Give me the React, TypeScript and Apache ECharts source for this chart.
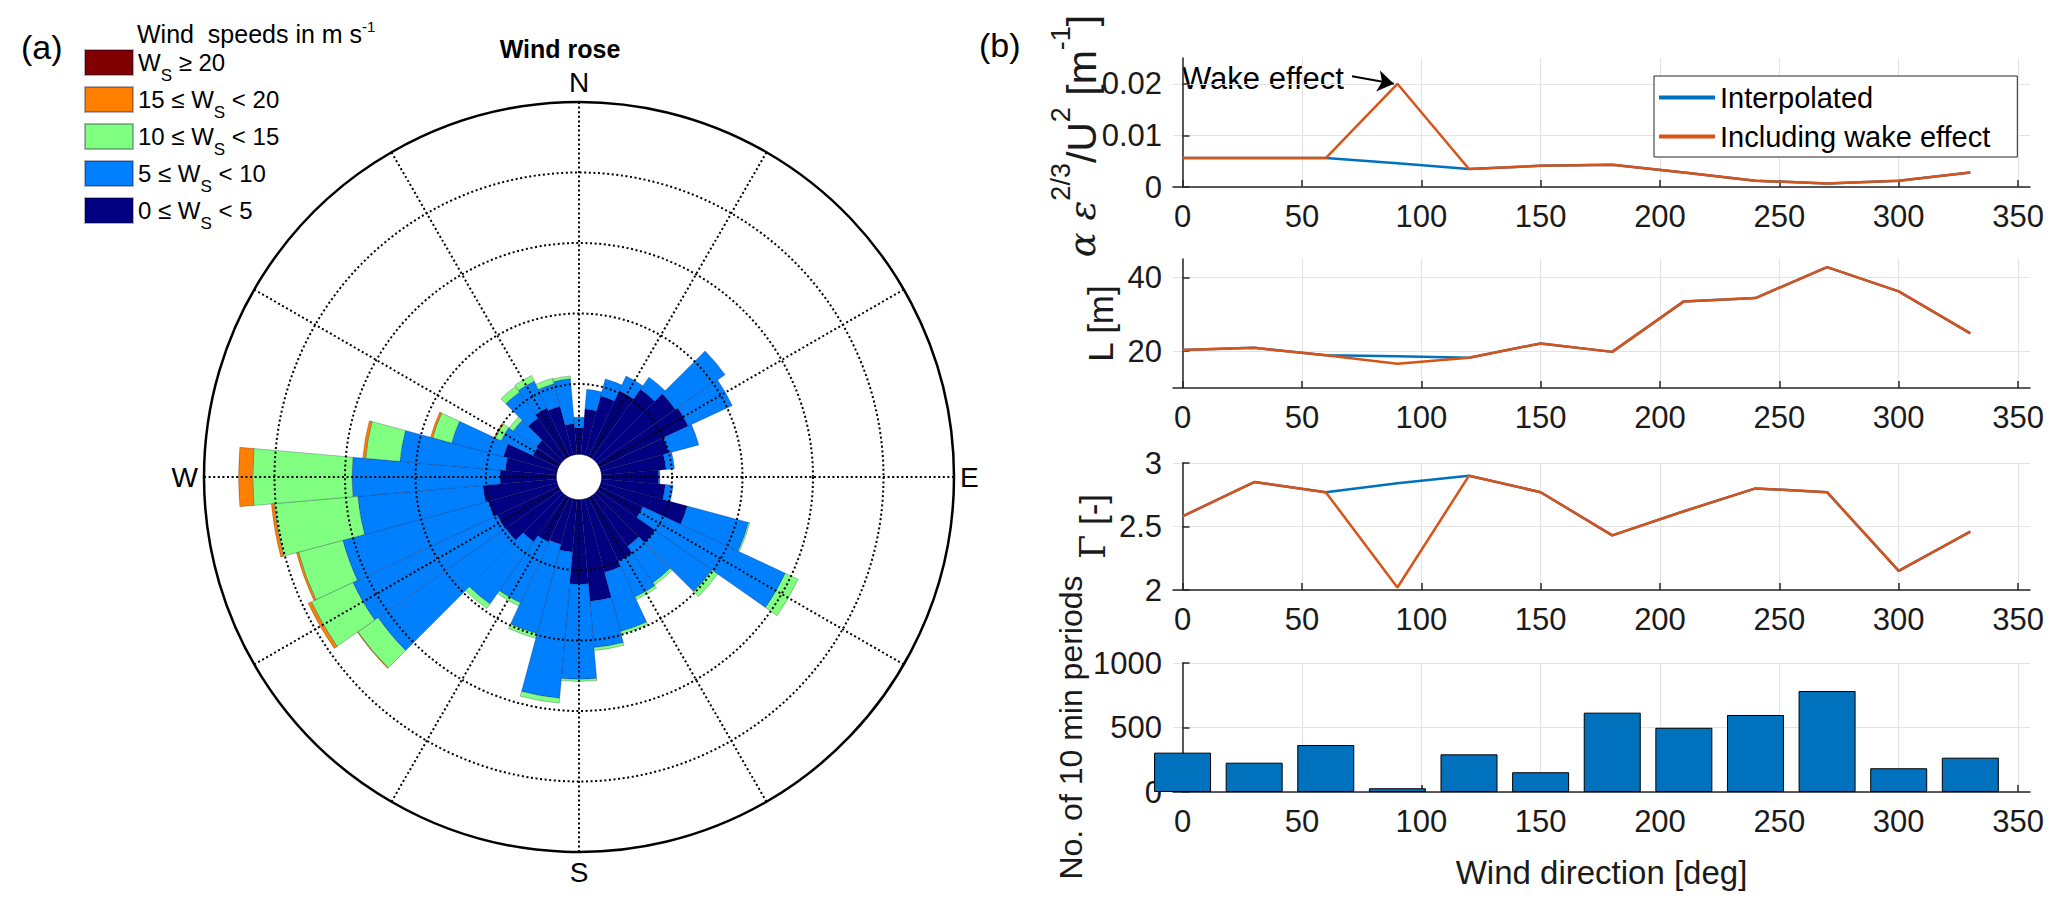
import React, { useEffect, useRef } from 'react';
import * as echarts from 'echarts';

const FONT = '"Liberation Sans", Arial, Helvetica, sans-serif';
const SERIF = '"DejaVu Serif", "Liberation Serif", serif';
const AXC = '#262626';
const GRIDC = '#e3e3e3';

// ---------- (a) wind rose: frequency per 10 deg sector, per speed class ----------
const roseDirections = [0, 10, 20, 30, 40, 50, 60, 70, 80, 90, 100, 110, 120, 130, 140, 150, 160, 170, 180, 190, 200, 210, 220, 230, 240, 250, 260, 270, 280, 290, 300, 310, 320, 330, 340, 350];
const roseSpeed0to5 = [0.38, 0.65, 0.87, 1.03, 1.2, 1.35, 1.39, 1.0, 0.92, 0.81, 0.91, 1.27, 0.68, 1.0, 0.88, 1.0, 1.08, 1.45, 1.2, 0.75, 0.67, 0.7, 0.8, 0.95, 0.96, 1.01, 1.05, 0.8, 0.73, 0.79, 0.4, 0.42, 0.7, 0.76, 0.72, 0.44];
const roseSpeed5to10 = [0.15, 0.28, 0.25, 0.23, 0.21, 0.86, 0.69, 0.44, 0.12, 0.02, 0.11, 0.9, 2.23, 0.98, 0.63, 0.56, 0.87, 0.66, 1.35, 2.08, 1.31, 0.95, 1.08, 2.21, 2.26, 2.14, 1.78, 2.1, 1.5, 0.76, 0.5, 0.4, 0.45, 0.42, 0.33, 0.64];
const roseSpeed10to15 = [0, 0, 0, 0, 0, 0, 0, 0, 0, 0, 0, 0.02, 0.2, 0.1, 0.04, 0.04, 0.04, 0.04, 0.03, 0.07, 0.07, 0.05, 0.08, 0.35, 0.65, 0.65, 1.19, 1.41, 0.49, 0.28, 0.09, 0.07, 0.1, 0.09, 0.08, 0.04];
const roseSpeed15to20 = [0, 0, 0, 0, 0, 0, 0, 0, 0, 0, 0, 0, 0, 0, 0, 0, 0, 0, 0, 0, 0, 0, 0, 0.01, 0.05, 0.03, 0.04, 0.2, 0.04, 0.03, 0.02, 0, 0, 0, 0, 0];
const roseSpeedAbove20 = [0, 0, 0, 0, 0, 0, 0, 0, 0, 0, 0, 0, 0, 0, 0, 0, 0, 0, 0, 0, 0, 0, 0, 0, 0, 0, 0, 0, 0, 0, 0, 0, 0, 0, 0, 0];
const compassLabels = { 0: 'N', 90: 'E', 180: 'S', 270: 'W' } as Record<number, string>;

// ---------- (b) profiles versus wind direction ----------
const sectorCentres = [0, 30, 60, 90, 120, 150, 180, 210, 240, 270, 300, 330];
const dissipationInterpolated = [0.0056, 0.0056, 0.0056, 0.0046, 0.0035, 0.0041, 0.0043, 0.0028, 0.0012, 0.0007, 0.0012, 0.0028];
const dissipationWake = [0.0056, 0.0056, 0.0056, 0.02, 0.0035, 0.0041, 0.0043, 0.0028, 0.0012, 0.0007, 0.0012, 0.0028];
const lengthInterpolated = [20.3, 20.9, 18.9, 18.6, 18.2, 22.1, 19.8, 33.5, 34.4, 42.8, 36.2, 24.8];
const lengthWake = [20.3, 20.9, 18.9, 16.6, 18.2, 22.1, 19.8, 33.5, 34.4, 42.8, 36.2, 24.8];
const gammaInterpolated = [2.58, 2.85, 2.77, 2.84, 2.9, 2.77, 2.43, 2.62, 2.8, 2.77, 2.15, 2.46];
const gammaWake = [2.58, 2.85, 2.77, 2.02, 2.9, 2.77, 2.43, 2.62, 2.8, 2.77, 2.15, 2.46];
const periodCounts = [305, 227, 364, 29, 292, 153, 615, 498, 597, 783, 184, 266];

const directionTicks = [0, 50, 100, 150, 200, 250, 300, 350];
const dissipationTicks = [0, 0.01, 0.02];
const lengthTicks = [20, 40];
const gammaTicks = [2, 2.5, 3];
const countTicks = [0, 500, 1000];

const BLUE = '#0072BD';
const ORANGE = '#D95319';

const axisText = { fontSize: 31, color: '#1a1a1a', fontFamily: FONT };
const axisLineStyle = { color: AXC, width: 1.5 };

function xAxisFor(i: number, extra: any = {}) {
  return {
    type: 'value', gridIndex: i, min: -4, max: 355,
    axisLine: { show: true, onZero: false, lineStyle: axisLineStyle },
    axisTick: { show: true, inside: true, length: 7, customValues: directionTicks, lineStyle: axisLineStyle },
    axisLabel: { ...axisText, margin: 14, customValues: directionTicks, formatter: (v: number) => String(v) },
    splitLine: { show: true, lineStyle: { color: GRIDC, width: 1.2 } },
    ...extra,
  };
}

function yAxisFor(i: number, min: number, max: number, ticks: number[], extra: any = {}) {
  return {
    type: 'value', gridIndex: i, min, max,
    axisLine: { show: true, lineStyle: axisLineStyle },
    axisTick: { show: true, inside: true, length: 7, customValues: ticks, lineStyle: axisLineStyle },
    axisLabel: { ...axisText, margin: 11, customValues: ticks, formatter: (v: number) => String(v) },
    splitLine: { show: true, lineStyle: { color: GRIDC, width: 1.2 } },
    ...extra,
  };
}

function lineSeries(name: string, i: number, values: number[], color: string, extra: any = {}) {
  return {
    type: 'line', name, xAxisIndex: i, yAxisIndex: i,
    data: sectorCentres.map((d, k) => [d, values[k]]),
    showSymbol: false, symbol: 'none',
    lineStyle: { color, width: 2.5 }, itemStyle: { color },
    ...extra,
  };
}

const roseClasses = [
  { key: 'c0', values: roseSpeed0to5, color: '#000080', label: '{n|0 ≤ W}{s|S}{n| < 5}' },
  { key: 'c1', values: roseSpeed5to10, color: '#0080FF', label: '{n|5 ≤ W}{s|S}{n| < 10}' },
  { key: 'c2', values: roseSpeed10to15, color: '#80FF80', label: '{n|10 ≤ W}{s|S}{n| < 15}' },
  { key: 'c3', values: roseSpeed15to20, color: '#FF8000', label: '{n|15 ≤ W}{s|S}{n| < 20}' },
  { key: 'c4', values: roseSpeedAbove20, color: '#800000', label: '{n|W}{s|S}{n| ≥ 20}' },
];

const roseSeries = roseClasses.map((c) => ({
  type: 'bar', name: c.key, coordinateSystem: 'polar', polarIndex: 0, stack: 'rose',
  barCategoryGap: '0%',
  data: c.values.map((v) => (v === 0 ? '-' : v)),
  itemStyle: { color: c.color, borderColor: 'rgba(0,0,40,0.3)', borderWidth: 0.8 },
}));

const DOTS = [2, 2.6];

const option: any = {
  animation: false,
  backgroundColor: '#ffffff',
  textStyle: { fontFamily: FONT },
  polar: [
    { center: [579, 477], radius: [22.5, 375] },
    { center: [579, 477], radius: [22.5, 375] },
    { center: [579, 477], radius: [0, 375] },
  ],
  angleAxis: [
    { polarIndex: 0, type: 'category', data: roseDirections.map(String), startAngle: 95, clockwise: true, show: false },
    {
      polarIndex: 1, type: 'value', min: 0, max: 360, interval: 30, startAngle: 90, clockwise: true, z: 10,
      axisLine: { show: false }, axisTick: { show: false }, axisLabel: { show: false },
      splitLine: { show: true, lineStyle: { color: '#000', width: 2, type: DOTS } },
    },
    {
      polarIndex: 2, type: 'value', min: 0, max: 360, interval: 90, startAngle: 90, clockwise: true, z: 10,
      axisLine: { show: true, lineStyle: { color: '#000', width: 2.5 } },
      axisTick: { show: false }, splitLine: { show: false },
      axisLabel: { show: true, margin: 6, fontSize: 28, color: '#000', fontFamily: FONT, formatter: (v: number) => (v >= 360 ? '' : compassLabels[v] || '') },
    },
  ],
  radiusAxis: [
    { polarIndex: 0, type: 'value', min: 0, max: 5, show: false },
    {
      polarIndex: 1, type: 'value', min: 0, max: 5, interval: 1, z: 10,
      axisLine: { show: false }, axisTick: { show: false }, axisLabel: { show: false },
      splitLine: { show: true, lineStyle: { color: ['rgba(0,0,0,0)', '#000', '#000', '#000', '#000', 'rgba(0,0,0,0)'], width: 2, type: DOTS } },
    },
    { polarIndex: 2, type: 'value', min: 0, max: 5, show: false },
  ],
  grid: [
    { left: 1173, top: 58, width: 857, height: 129, containLabel: false, outerBoundsMode: 'none' },
    { left: 1173, top: 259, width: 857, height: 129, containLabel: false, outerBoundsMode: 'none' },
    { left: 1173, top: 463, width: 857, height: 127, containLabel: false, outerBoundsMode: 'none' },
    { left: 1173, top: 663, width: 857, height: 129, containLabel: false, outerBoundsMode: 'none' },
  ],
  xAxis: [
    xAxisFor(0), xAxisFor(1), xAxisFor(2),
    xAxisFor(3, { name: 'Wind direction [deg]', nameLocation: 'middle', nameGap: 64, nameTextStyle: { fontSize: 33, color: '#1a1a1a', fontFamily: FONT } }),
  ],
  yAxis: [
    yAxisFor(0, 0, 0.025, dissipationTicks),
    yAxisFor(1, 10, 45, lengthTicks, { name: 'L [m]', nameLocation: 'middle', nameRotate: 90, nameGap: 55, nameTextStyle: { fontSize: 35, color: '#1a1a1a', fontFamily: FONT } }),
    yAxisFor(2, 2, 3, gammaTicks, {
      name: '{g|Γ}{n| [-]}', nameLocation: 'middle', nameRotate: 90, nameGap: 63,
      nameTextStyle: { rich: { g: { fontFamily: SERIF, fontSize: 35, color: '#1a1a1a' }, n: { fontFamily: FONT, fontSize: 35, color: '#1a1a1a' } } },
    }),
    yAxisFor(3, 0, 1000, countTicks, { name: 'No. of 10 min periods', nameLocation: 'middle', nameRotate: 90, nameGap: 86, nameTextStyle: { fontSize: 32, color: '#1a1a1a', fontFamily: FONT } }),
  ],
  legend: [
    {
      data: ['c4', 'c3', 'c2', 'c1', 'c0'], orient: 'vertical', left: 84, top: 49, padding: 0,
      itemWidth: 48, itemHeight: 25, itemGap: 2.5, icon: 'rect', selectedMode: false,
      formatter: (name: string) => (roseClasses.find((c) => c.key === name) || { label: name }).label,
      textStyle: {
        color: '#000', fontSize: 24, fontFamily: FONT,
        rich: {
          n: { fontSize: 24, lineHeight: 42, fontFamily: FONT, color: '#000' },
          s: { fontSize: 17, lineHeight: 17, verticalAlign: 'bottom', fontFamily: FONT, color: '#000' },
        },
      },
    },
    {
      data: ['Interpolated', 'Including wake effect'], orient: 'vertical', left: 1654, top: 76,
      padding: [7, 27, 6, 5], itemGap: 10, itemWidth: 56, itemHeight: 4, icon: 'rect', selectedMode: false,
      backgroundColor: '#ffffff', borderColor: AXC, borderWidth: 1, borderRadius: 0,
      textStyle: { fontSize: 29, color: '#000', fontFamily: FONT },
    },
  ],
  graphic: [
    { type: 'text', x: 21, y: 47, style: { text: '(a)', fontSize: 34, fontFamily: FONT, fill: '#000', align: 'left', verticalAlign: 'middle' } },
    { type: 'text', x: 979, y: 45, style: { text: '(b)', fontSize: 34, fontFamily: FONT, fill: '#000', align: 'left', verticalAlign: 'middle' } },
    { type: 'text', x: 560, y: 49, style: { text: 'Wind rose', fontSize: 25, fontWeight: 'bold', fontFamily: FONT, fill: '#000', align: 'center', verticalAlign: 'middle' } },
    {
      type: 'text', x: 137, y: 34,
      style: {
        text: '{n|Wind  speeds in m s}{sup|-1}', align: 'left', verticalAlign: 'middle',
        rich: {
          n: { fontSize: 25, lineHeight: 30, fontFamily: FONT, fill: '#000', color: '#000' },
          sup: { fontSize: 15, lineHeight: 22, verticalAlign: 'top', fontFamily: FONT, fill: '#000', color: '#000' },
        },
      },
    },
    { type: 'text', x: 1182, y: 78, style: { text: 'Wake effect', fontSize: 31, fontFamily: FONT, fill: '#000', align: 'left', verticalAlign: 'middle' } },
    {
      type: 'text', x: 1082, y: 136, rotation: Math.PI / 2,
      style: {
        text: '{g|α ε}{sup|2/3}{n|/U}{sup|2}{n| [m}{sup|-1}{n|]}', align: 'center', verticalAlign: 'middle',
        rich: {
          g: { fontSize: 37, lineHeight: 70, fontFamily: SERIF, fontStyle: 'italic', fill: '#1a1a1a', color: '#1a1a1a' },
          n: { fontSize: 41, lineHeight: 70, fontFamily: FONT, fill: '#1a1a1a', color: '#1a1a1a' },
          sup: { fontSize: 27, lineHeight: 27, verticalAlign: 'top', fontFamily: FONT, fill: '#1a1a1a', color: '#1a1a1a' },
        },
      },
    },
  ],
  series: [
    ...roseSeries,
    lineSeries('Interpolated', 0, dissipationInterpolated, BLUE),
    lineSeries('Including wake effect', 0, dissipationWake, ORANGE, {
      markLine: {
        silent: true, symbol: ['none', 'arrow'], symbolSize: 16,
        lineStyle: { color: '#000', width: 2, type: 'solid' }, label: { show: false },
        data: [[{ coord: [71, 0.02145] }, { coord: [88.5, 0.02] }]],
      },
    }),
    lineSeries('Interpolated', 1, lengthInterpolated, BLUE),
    lineSeries('Including wake effect', 1, lengthWake, ORANGE),
    lineSeries('Interpolated', 2, gammaInterpolated, BLUE),
    lineSeries('Including wake effect', 2, gammaWake, ORANGE),
    {
      type: 'bar', name: 'No. of 10 min periods', xAxisIndex: 3, yAxisIndex: 3,
      data: sectorCentres.map((d, k) => [d, periodCounts[k]]),
      barWidth: 57, clip: true,
      itemStyle: { color: BLUE, borderColor: '#000', borderWidth: 1 },
    },
  ],
};

export default function App() {
  const ref = useRef<HTMLDivElement>(null);
  useEffect(() => {
    const chart = echarts.init(ref.current as HTMLDivElement, null, { renderer: 'svg' });
    chart.setOption(option);
    return () => chart.dispose();
  }, []);
  return <div ref={ref} style={{ position: 'fixed', left: 0, top: 0, width: 2067, height: 914, background: '#fff' }} />;
}
